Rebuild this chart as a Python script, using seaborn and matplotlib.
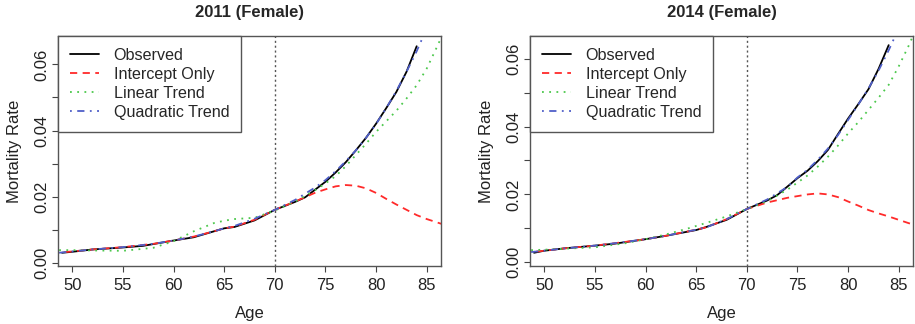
import numpy as np
import pandas as pd
import matplotlib
matplotlib.use("Agg")
import matplotlib.pyplot as plt
import seaborn as sns

# ---------------- data ----------------
ages_obs = [49, 50, 52, 55, 57, 60, 62, 65, 66, 68, 70, 72, 73, 75, 76, 77, 78, 79, 80, 81, 82, 83, 84]
obs_2011 = [0.0030, 0.0033, 0.0040, 0.0046, 0.0051, 0.0067, 0.0077, 0.0104, 0.0108, 0.0128,
            0.0160, 0.0184, 0.0198, 0.0245, 0.0273, 0.0304, 0.0340, 0.0378, 0.0421, 0.0468,
            0.0517, 0.0578, 0.0655]
obs_2014 = [0.0028, 0.0034, 0.0041, 0.0049, 0.0055, 0.0068, 0.0078, 0.0095, 0.0104, 0.0125,
            0.0157, 0.0182, 0.0198, 0.0248, 0.0270, 0.0298, 0.0331, 0.0378, 0.0424, 0.0466,
            0.0510, 0.0570, 0.0640]

ages_fit = [48, 50, 52, 55, 58, 60, 62, 64, 65, 66, 68, 70, 72, 74, 75, 76, 77, 78, 79, 80, 81, 82, 83, 84, 85, 86, 87]

int_2011 = [0.0029, 0.0034, 0.0040, 0.0047, 0.0057, 0.0067, 0.0079, 0.0095, 0.0104, 0.0109, 0.0130,
            0.0160, 0.0185, 0.0212, 0.0222, 0.0231, 0.0235, 0.0233, 0.0225, 0.0211, 0.0193, 0.0176,
            0.0160, 0.0144, 0.0132, 0.0122, 0.0112]
lin_2011 = [0.0038, 0.0038, 0.0037, 0.0036, 0.0045, 0.0065, 0.0095, 0.0120, 0.0127, 0.0132, 0.0136,
            0.0158, 0.0185, 0.0220, 0.0240, 0.0262, 0.0292, 0.0326, 0.0360, 0.0396, 0.0428, 0.0460,
            0.0497, 0.0537, 0.0588, 0.0653, 0.0720]
quad_2011 = [0.0028, 0.0034, 0.0040, 0.0047, 0.0057, 0.0067, 0.0079, 0.0095, 0.0104, 0.0111, 0.0133,
             0.0160, 0.0190, 0.0228, 0.0250, 0.0277, 0.0307, 0.0340, 0.0378, 0.0420, 0.0468, 0.0520,
             0.0578, 0.0640, 0.0710, 0.0790, 0.0880]

int_2014 = [0.0028, 0.0034, 0.0041, 0.0049, 0.0060, 0.0068, 0.0078, 0.0090, 0.0096, 0.0103, 0.0127,
            0.0157, 0.0176, 0.0190, 0.0195, 0.0200, 0.0203, 0.0200, 0.0192, 0.0179, 0.0167, 0.0154,
            0.0144, 0.0135, 0.0125, 0.0115, 0.0108]
lin_2014 = [0.0035, 0.0037, 0.0040, 0.0044, 0.0056, 0.0068, 0.0082, 0.0098, 0.0107, 0.0116, 0.0135,
            0.0157, 0.0180, 0.0214, 0.0235, 0.0256, 0.0282, 0.0311, 0.0344, 0.0380, 0.0413, 0.0449,
            0.0485, 0.0523, 0.0578, 0.0640, 0.0710]
quad_2014 = [0.0028, 0.0034, 0.0041, 0.0049, 0.0060, 0.0068, 0.0078, 0.0090, 0.0096, 0.0103, 0.0127,
             0.0157, 0.0185, 0.0222, 0.0250, 0.0273, 0.0302, 0.0335, 0.0375, 0.0420, 0.0465, 0.0512,
             0.0565, 0.0625, 0.0690, 0.0765, 0.0850]

x_ticks = [50, 55, 60, 65, 70, 75, 80, 85]
y_ticks = [0.00, 0.02, 0.04, 0.06]
y_minor = [0.01, 0.03, 0.05]
titles = ["2011 (Female)", "2014 (Female)"]
labels = ["Observed", "Intercept Only", "Linear Trend", "Quadratic Trend"]

# ---------------- style ----------------
sns.set_theme(style="white")
plt.rcParams["font.family"] = ["Liberation Sans", "DejaVu Sans"]

colors = ["black", "#FF2A2A", "#4CC84C", "#4F5FC8"]
dashes = [(None, None), (4, 3), (1, 3), (1, 3, 4, 3)]

fig = plt.figure(figsize=(9.15, 3.24), dpi=100)
axes = [fig.add_axes([58 / 915, 58 / 324, 383 / 915, 230 / 324]),
        fig.add_axes([530 / 915, 58 / 324, 383 / 915, 230 / 324])]

panels = [
    (obs_2011, int_2011, lin_2011, quad_2011, (-0.0010, 0.0686)),
    (obs_2014, int_2014, lin_2014, quad_2014, (-0.0011, 0.0667)),
]

for ax, title, (obs, ico, lin, quad, ylim) in zip(axes, titles, panels):
    series = [(ages_obs, obs), (ages_fit, ico), (ages_fit, lin), (ages_fit, quad)]
    handles = []
    for (xs, ys), col, ds, lab in zip(series, colors, dashes, labels):
        df = pd.DataFrame({"Age": xs, "Rate": ys})
        sns.lineplot(data=df, x="Age", y="Rate", ax=ax, color=col, lw=1.3,
                     label=lab, legend=False)
        line = ax.lines[-1]
        if ds[0] is not None:
            line.set_dashes(ds)
        handles.append(line)
    ax.axvline(70, color="#555555", lw=1.0, dashes=(1.5, 2))
    ax.set_xlim(48.6, 86.4)
    ax.set_ylim(*ylim)
    ax.set_xticks(x_ticks)
    ax.set_yticks(y_ticks + y_minor)
    ax.set_yticklabels([f"{v:.2f}" for v in y_ticks] + [""] * len(y_minor))
    ax.tick_params(axis="both", which="both", length=4, width=0.8, color="#444444",
                   labelsize=12, bottom=True, left=True, labelcolor="#222222")
    ax.tick_params(axis="x", pad=5)
    ax.tick_params(axis="y", pad=2)
    for lbl in ax.get_yticklabels():
        lbl.set_rotation(90)
        lbl.set_va("center")
    for sp in ax.spines.values():
        sp.set_color("#555555")
        sp.set_linewidth(1.0)
    ax.set_xlabel("Age", fontsize=12, color="#222222", labelpad=9)
    ax.set_ylabel("Mortality Rate", fontsize=12, color="#222222", labelpad=9)
    ax.set_title(title, fontsize=12, fontweight="bold", pad=14)
    leg = ax.legend(handles=handles, labels=labels, loc="upper left",
                    bbox_to_anchor=(0, 1), borderaxespad=0, fontsize=11.6,
                    frameon=True, fancybox=False, handlelength=1.8,
                    handletextpad=0.9, labelspacing=0.24, borderpad=0.75)
    leg.get_frame().set_edgecolor("#555555")
    leg.get_frame().set_linewidth(1.0)
    leg.get_frame().set_facecolor("white")
    leg.get_frame().set_alpha(1)

fig.savefig("out.png", dpi=100)
